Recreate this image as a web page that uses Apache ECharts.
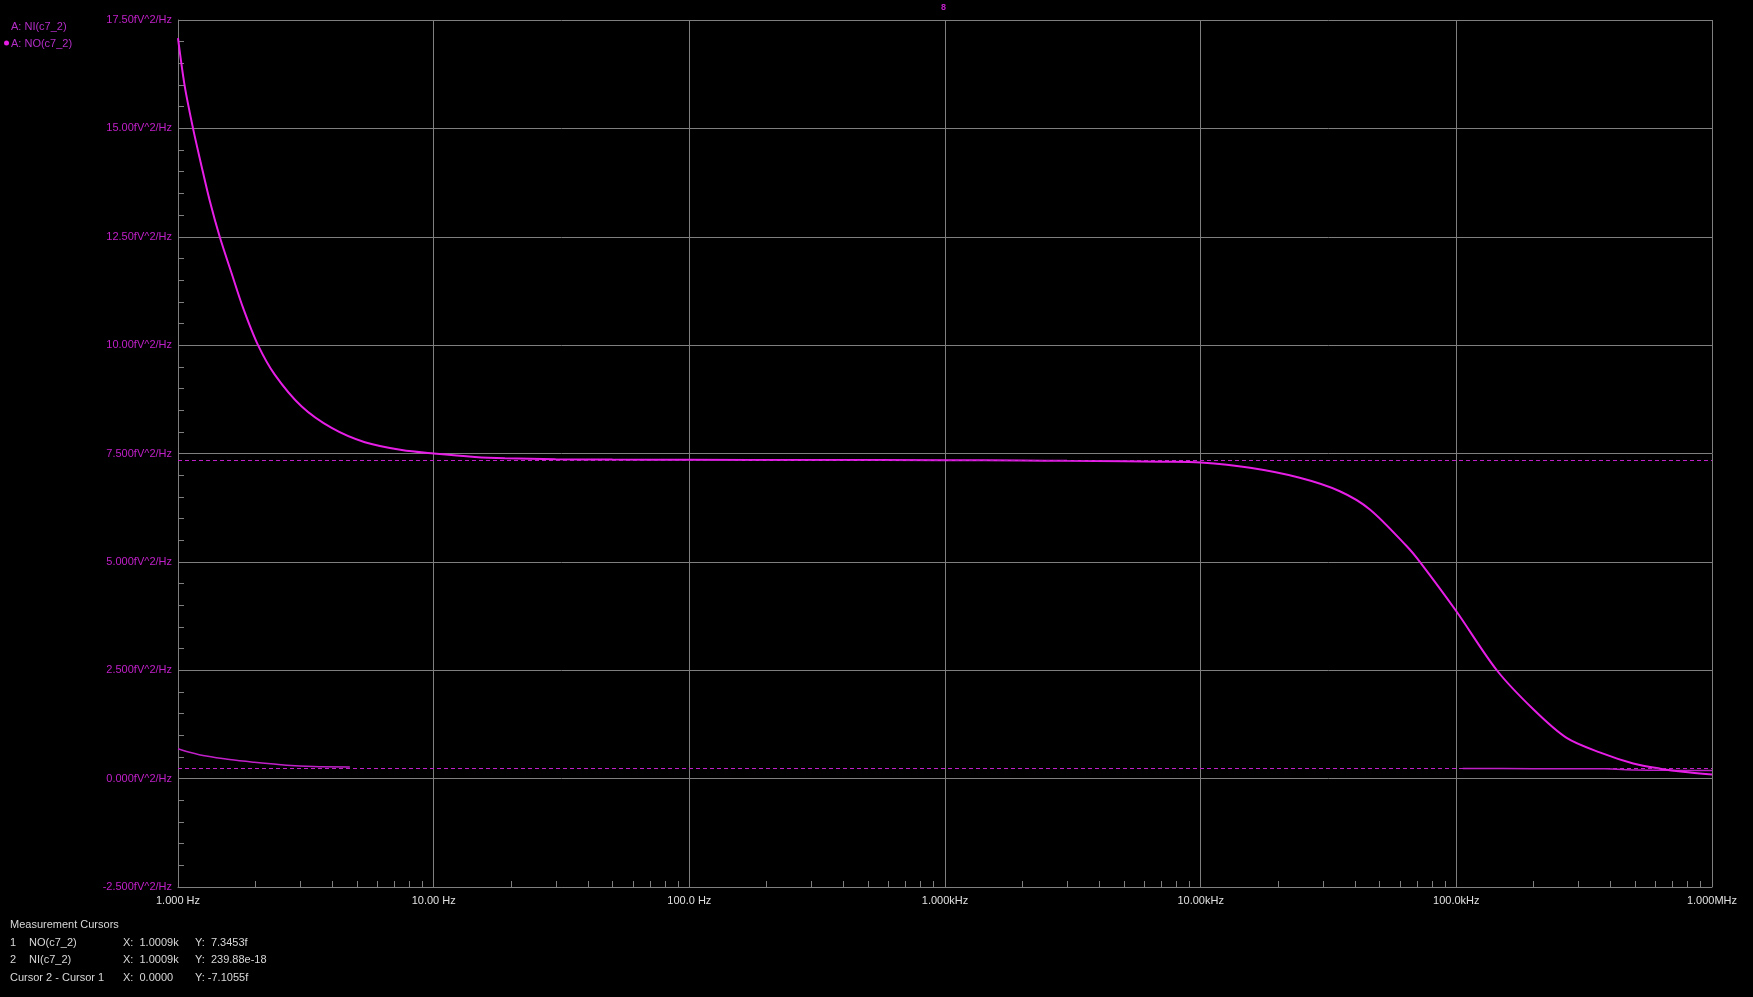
<!DOCTYPE html>
<html>
<head>
<meta charset="utf-8">
<script src="https://cdn.jsdelivr.net/npm/echarts@6/dist/echarts.min.js"></script>
<style>
html,body{margin:0;padding:0;background:#000;}
#main{width:1753px;height:997px;}
</style>
</head>
<body>
<div id="main"></div>
<script>
// ---- data ----
const freqNO = [1, 1.062, 1.145, 1.235, 1.331, 1.456, 1.618, 1.797, 2.056, 2.39, 3.04, 3.99, 5.38, 7.5, 10, 14.5, 19, 30, 50, 100, 300, 1000, 2000, 3000, 5000, 7000, 10000, 15600, 24400, 35000, 45900, 64000, 72000, 100000, 144000, 200000, 270000, 366000, 492000, 627000, 770000, 1000000];
const valNO  = [17.08, 15.98, 15.0, 14.14, 13.33, 12.5, 11.67, 10.86, 10.0, 9.32, 8.59, 8.09, 7.76, 7.58, 7.5, 7.42, 7.39, 7.37, 7.36, 7.355, 7.35, 7.345, 7.34, 7.33, 7.32, 7.31, 7.29, 7.17, 6.94, 6.63, 6.21, 5.36, 5.0, 3.86, 2.5, 1.6, 0.94, 0.6, 0.35, 0.23, 0.16, 0.095];
const freqNI = [1, 1.11, 1.29, 1.59, 1.97, 2.66, 3.38, 4.7, 20000, 106000, 200000, 380000, 500000, 700000, 1000000];
const valNI  = [0.69, 0.61, 0.52, 0.44, 0.38, 0.31, 0.28, 0.27, null, 0.235, 0.23, 0.225, 0.2, 0.19, 0.185];
const cursorY = [7.3453, 0.23988];
const xTickLabels = ['1.000 Hz', '10.00 Hz', '100.0 Hz', '1.000kHz', '10.00kHz', '100.0kHz', '1.000MHz'];
const yTickLabels = ['-2.500fV^2/Hz', '0.000fV^2/Hz', '2.500fV^2/Hz', '5.000fV^2/Hz', '7.500fV^2/Hz', '10.00fV^2/Hz', '12.50fV^2/Hz', '15.00fV^2/Hz', '17.50fV^2/Hz'];
const legendNames = ['A: NI(c7_2)', 'A: NO(c7_2)'];
const cursorTitle = 'Measurement Cursors';
const cursorRows = [
  ['1', 'NO(c7_2)', 'X:  1.0009k', 'Y:  7.3453f'],
  ['2', 'NI(c7_2)', 'X:  1.0009k', 'Y:  239.88e-18'],
  ['Cursor 2 - Cursor 1', '', 'X:  0.0000', 'Y: -7.1055f']
];
const minorFreqs = [];
[1, 10, 100, 1000, 10000, 100000].forEach(d => { [2,3,4,5,6,7,8,9].forEach(m => minorFreqs.push(d * m)); });

const grey = '#7f7f7f';
const magenta = '#e61ee6';
const purple = '#c020c8';
const labelPurple = '#b42dc8';
const font = 'Liberation Sans, Arial, sans-serif';

const chart = echarts.init(document.getElementById('main'), null, {renderer: 'canvas'});

const graphics = [];
graphics.push({type: 'text', left: 11, top: 21, style: {text: legendNames[0], fill: labelPurple, font: '11px ' + font}});
graphics.push({type: 'circle', shape: {cx: 6.5, cy: 43, r: 2.5}, style: {fill: magenta}});
graphics.push({type: 'text', left: 11, top: 38, style: {text: legendNames[1], fill: labelPurple, font: '11px ' + font}});
graphics.push({type: 'text', left: 941, top: 3, style: {text: '8', fill: purple, font: 'bold 9px ' + font}});
graphics.push({type: 'text', left: 10, top: 919, style: {text: cursorTitle, fill: '#d8d8d8', font: '11px ' + font}});
const colX = [10, 29, 123, 195];
cursorRows.forEach((row, r) => {
  row.forEach((t, c) => {
    if (!t) return;
    graphics.push({type: 'text', left: colX[c], top: 937 + r * 17.5, style: {text: t, fill: '#d8d8d8', font: '11px ' + font}});
  });
});

chart.setOption({
  backgroundColor: '#000',
  animation: false,
  grid: {left: 178, right: 41, top: 20, bottom: 110, containLabel: false},
  xAxis: {
    type: 'log', logBase: 10, min: 1, max: 1000000, splitNumber: 6,
    axisLine: {show: true, onZero: false, lineStyle: {color: grey, width: 1}},
    axisTick: {show: false},
    splitLine: {show: true, lineStyle: {color: grey, width: 1}},
    axisLabel: {
      color: '#e0e0e0', fontFamily: font, fontSize: 11, margin: 8,
      showMinLabel: true, showMaxLabel: true,
      formatter: v => xTickLabels[Math.round(Math.log10(v))] || ''
    }
  },
  yAxis: {
    type: 'value', min: -2.5, max: 17.5, interval: 2.5,
    axisLine: {show: true, lineStyle: {color: grey, width: 1}},
    axisTick: {show: true, inside: true, length: 6, lineStyle: {color: grey}},
    minorTick: {show: true, splitNumber: 5, length: 6, lineStyle: {color: grey}},
    splitLine: {show: true, lineStyle: {color: grey, width: 1}},
    axisLabel: {
      color: purple, fontFamily: font, fontSize: 11, margin: 6,
      formatter: v => yTickLabels[Math.round((v + 2.5) / 2.5)] || ''
    }
  },
  graphic: graphics,
  series: [
    {
      name: 'xminor', type: 'custom', silent: true, clip: false, z: 1,
      data: minorFreqs.map(f => [f, -2.5]),
      renderItem: (params, api) => {
        const p = api.coord([api.value(0), api.value(1)]);
        return {type: 'line', shape: {x1: Math.round(p[0]) + 0.5, y1: p[1], x2: Math.round(p[0]) + 0.5, y2: p[1] - 6}, style: {stroke: grey, lineWidth: 1}};
      }
    },
    {
      name: legendNames[0], type: 'line', showSymbol: false, connectNulls: false, z: 3,
      smooth: 0.3,
      lineStyle: {color: purple, width: 1.5},
      data: freqNI.map((f, i) => [f, valNI[i]])
    },
    {
      name: legendNames[1], type: 'line', showSymbol: false, z: 4,
      smooth: 0.3,
      lineStyle: {color: magenta, width: 2},
      data: freqNO.map((f, i) => [f, valNO[i]]),
      markLine: {
        silent: true, symbol: 'none', label: {show: false},
        lineStyle: {color: purple, width: 1, type: [4, 3]},
        data: cursorY.map(v => ({yAxis: v}))
      }
    }
  ]
});
</script>
</body>
</html>
